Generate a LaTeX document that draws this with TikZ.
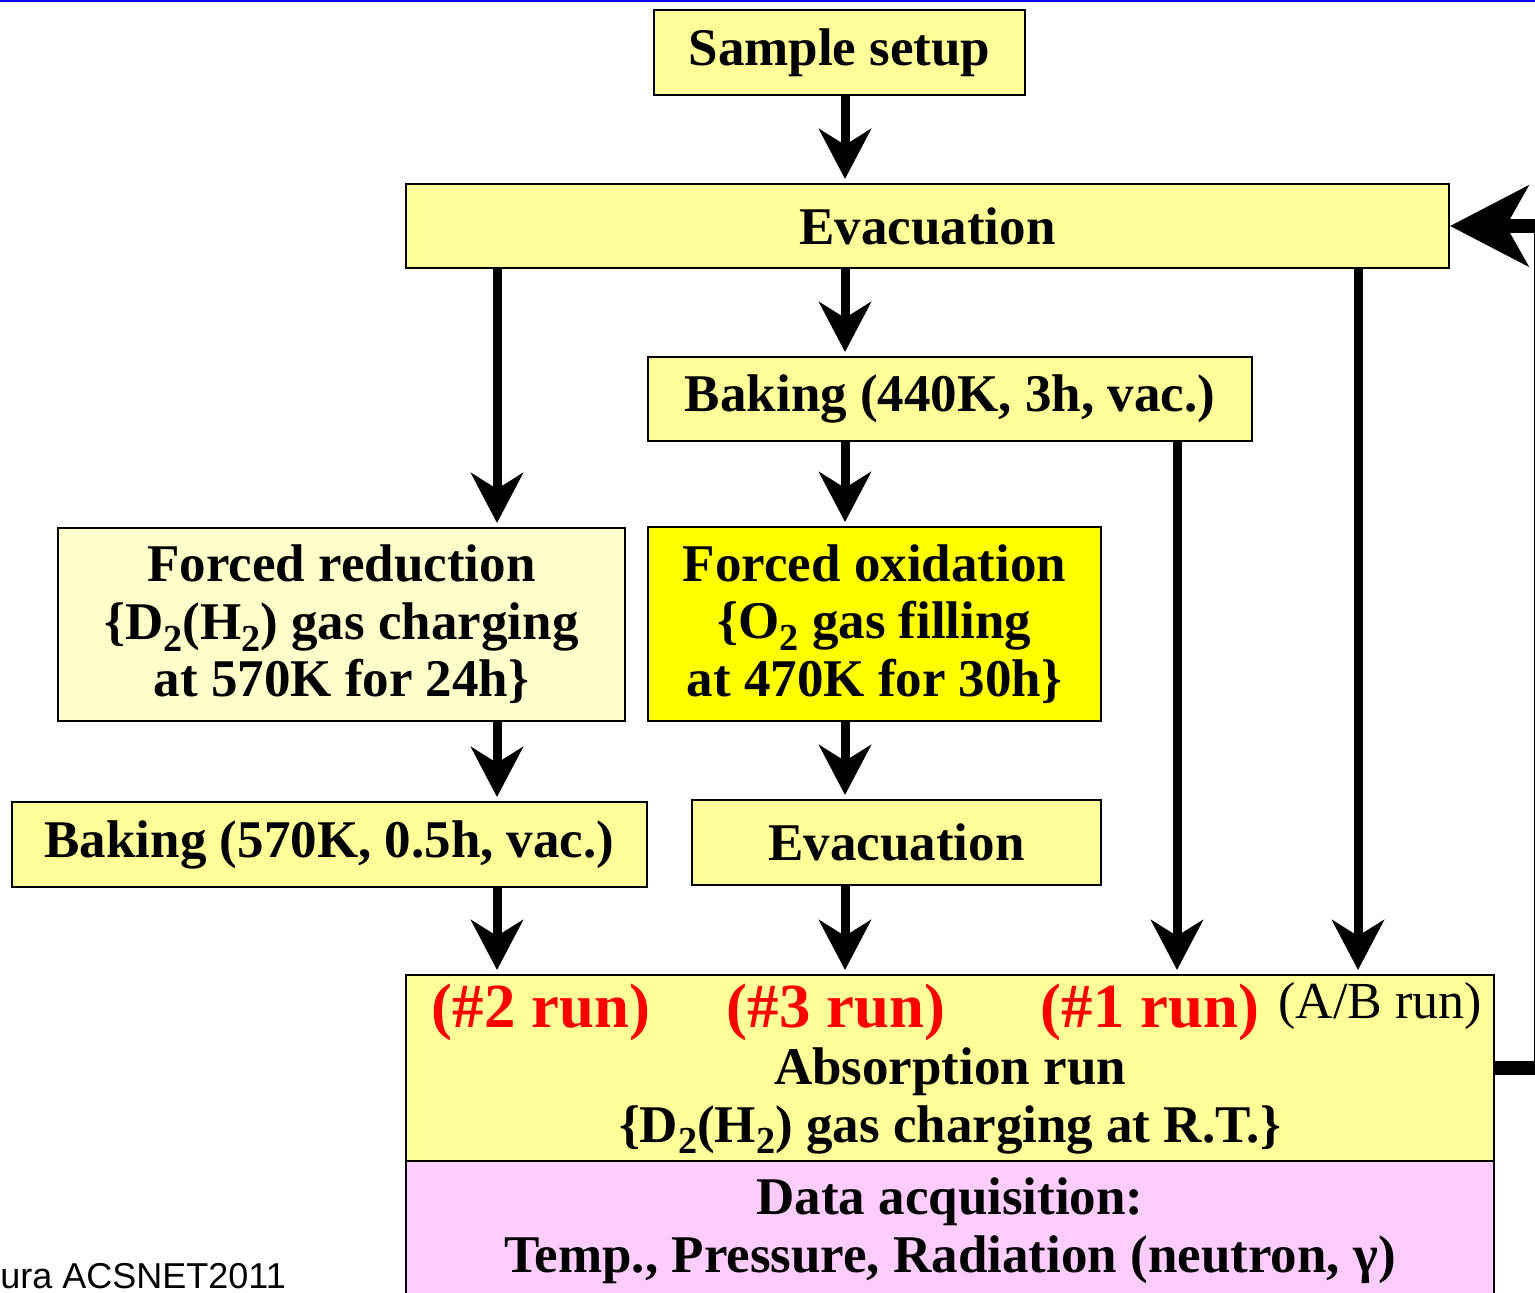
\documentclass[tikz,border=0pt]{standalone}
\usepackage{fontspec}
\setmainfont{Liberation Serif}
\newfontfamily\creditfont{Liberation Sans}
\usepackage{tikz}
\usetikzlibrary{arrows.meta}
\usetikzlibrary{calc}

\definecolor{paleyellow}{RGB}{255,255,153}
\definecolor{lightyellow}{RGB}{255,255,204}
\definecolor{pinkbox}{RGB}{255,204,255}
\definecolor{brightyellow}{RGB}{255,255,0}

% low, fairly large subscript
\newcommand{\lowsub}[1]{\raisebox{-0.22em}[\height][0pt]{\scalebox{0.72}{#1}}}

\begin{document}
\begin{tikzpicture}[x=0.5pt, y=-0.5pt,
  box/.style={draw, line width=1pt, inner sep=0pt, align=center,
    font=\bfseries\fontsize{26.5}{28.75}\selectfont},
  flow/.style={line width=4.5pt, shorten >=2pt, -{Stealth[length=25pt, width=26pt, inset=8pt]}},
  back/.style={line width=7pt, -{Stealth[length=39pt, width=40pt, inset=11pt]}},
  runlabel/.style={text=red, font=\bfseries\fontsize{31.4}{34}\selectfont}]

\useasboundingbox (0,0) rectangle (1535,1293);
\clip (0,0) rectangle (1535,1293);
\fill[blue] (0,0) rectangle (1535,2.5);

% arrow columns
\coordinate (colA) at (497,0);
\coordinate (colB) at (845,0);
\coordinate (colC) at (1177,0);
\coordinate (colD) at (1358,0);

\node[box, fill=paleyellow, minimum width=185.5pt, minimum height=42.5pt] (sample) at (839.5,52.5) {Sample setup};
\node[box, fill=paleyellow, minimum width=521.5pt, minimum height=42pt] (evac) at (927.5,226) {Evacuation};
\node[box, fill=paleyellow, minimum width=302pt, minimum height=42pt] (bakeA) at (950,399) {Baking (440K, 3h, vac.)};
\node[box, fill=lightyellow, minimum width=283.5pt, minimum height=96.5pt] (reduce) at (341.5,624.5)
  {Forced reduction\\\{D\lowsub{2}(H\lowsub{2}) gas charging\\at 570K for 24h\}};
\node[box, fill=brightyellow, minimum width=226.5pt, minimum height=97pt] (oxid) at (874.5,624)
  {Forced oxidation\\\{O\lowsub{2} gas filling\\at 470K for 30h\}};
\node[box, fill=paleyellow, minimum width=317.5pt, minimum height=42.5pt] (bakeB) at (329.5,844.5) {Baking (570K, 0.5h, vac.)};
\node[box, fill=paleyellow, minimum width=204.5pt, minimum height=42.5pt] (evacB) at (896.5,842.5) {Evacuation};

\node[box, fill=paleyellow, minimum width=544pt, minimum height=93pt] (absorb) at (950,1068) {};
\node[box, fill=pinkbox, minimum width=544pt, minimum height=69.5pt] (daq) at (950,1230.5)
  {Data acquisition:\\Temp., Pressure, Radiation (neutron, γ)};

\node[runlabel] (runtwo) at (541,1012) {(\#2 run)};
\node[runlabel] (runthree) at (836,1012) {(\#3 run)};
\node[runlabel] (runone) at (1150,1012) {(\#1 run)};
\node[font=\fontsize{26}{28}\selectfont] (runab) at (1380,1006) {(A/B run)};
\node[align=center, font=\bfseries\fontsize{26.5}{28.75}\selectfont] (abstext) at (950,1101)
  {Absorption run\\\{D\lowsub{2}(H\lowsub{2}) gas charging at R.T.\}};

\node[anchor=base west, inner sep=0pt, font=\creditfont\fontsize{18}{20}\selectfont] (credit) at (0,1288) {ura ACSNET2011};

% flow arrows
\draw[flow] (sample.south -| colB) -- (evac.north -| colB);
\draw[flow] (evac.south -| colB) -- (bakeA.north -| colB);
\draw[flow] (evac.south -| colA) -- (reduce.north -| colA);
\draw[flow] (bakeA.south -| colB) -- (oxid.north -| colB);
\draw[flow] (reduce.south -| colA) -- (bakeB.north -| colA);
\draw[flow] (oxid.south -| colB) -- (evacB.north -| colB);
\draw[flow] (bakeB.south -| colA) -- (absorb.north -| colA);
\draw[flow] (evacB.south -| colB) -- (absorb.north -| colB);
\draw[flow] (bakeA.south -| colC) -- (absorb.north -| colC);
\draw[flow] (evac.south -| colD) -- (absorb.north -| colD);

% repeat loop
\draw[back] (absorb.east) -- ++(46,0) |- (evac.east);

\end{tikzpicture}
\end{document}
